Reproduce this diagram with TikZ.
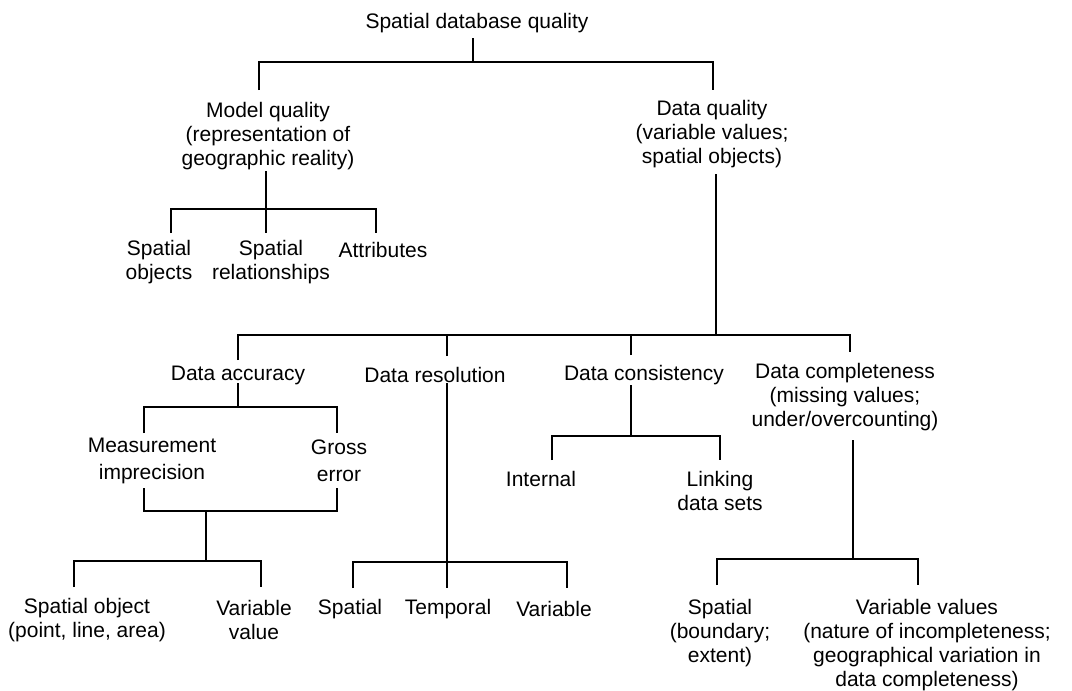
\documentclass[tikz,border=0pt]{standalone}
\usepackage{fontspec}
\setmainfont{Liberation Sans}
\begin{document}
\begin{tikzpicture}[x=1pt,y=-1pt,
  lbl/.style={inner sep=0pt, align=center, font=\fontsize{21}{24}\selectfont},
  conn/.style={line width=2.6pt, line join=miter}]
\useasboundingbox (0,0) rectangle (1072,691);
\fill[white] (0,0) rectangle (1072,691);
% text nodes
\node[lbl] (root) at (477,23) {Spatial database quality};
\node[lbl] (model) at (268,136) {Model quality\\(representation of\\geographic reality)};
\node[lbl] (data) at (712,134) {Data quality\\(variable values;\\spatial objects)};
\node[lbl] (sobj) at (159,262) {Spatial\\objects};
\node[lbl] (srel) at (271,262) {Spatial\\relationships};
\node[lbl] (attr) at (383,250) {Attributes};
\node[lbl] (acc) at (238,375) {Data accuracy};
\node[lbl] (res) at (435,375) {Data resolution};
\node[lbl] (cons) at (644,375) {Data consistency};
\node[lbl] (comp) at (845,397) {Data completeness\\(missing values;\\under/overcounting)};
\node[lbl, font=\fontsize{21}{27}\selectfont] (meas) at (152,461) {Measurement\\imprecision};
\node[lbl, font=\fontsize{21}{27}\selectfont] (gross) at (339,461) {Gross\\error};
\node[lbl] (spobj) at (87,620) {Spatial object\\(point, line, area)};
\node[lbl] (varval) at (254,620) {Variable\\value};
\node[lbl] (rspat) at (350,609) {Spatial};
\node[lbl] (rtemp) at (448,609) {Temporal};
\node[lbl] (rvar) at (554,609) {Variable};
\node[lbl] (int) at (541,479) {Internal};
\node[lbl] (link) at (720,491) {Linking\\data sets};
\node[lbl] (cspat) at (720,633) {Spatial\\(boundary;\\extent)};
\node[lbl] (cvar) at (927,645) {Variable values\\(nature of incompleteness;\\geographical variation in\\data completeness)};
% connector end points
\coordinate (rootS) at (473,38);
\coordinate (rootJ) at (473,62);
\coordinate (modelN) at (259,90);
\coordinate (dataN) at (713,90);
\coordinate (modelS) at (266,171);
\coordinate (modelJ) at (266,209);
\coordinate (sobjN) at (171,233);
\coordinate (srelN) at (266,233);
\coordinate (attrN) at (376,233);
\coordinate (dataS) at (716,174);
\coordinate (dataJ) at (716,335);
\coordinate (accN) at (238,360);
\coordinate (resN) at (447,356);
\coordinate (consN) at (631,355);
\coordinate (compN) at (850,352);
\coordinate (accS) at (238,383);
\coordinate (accJ) at (238,407);
\coordinate (measN) at (144,433);
\coordinate (grossN) at (337,433);
\coordinate (measS) at (144,488);
\coordinate (grossS) at (337,488);
\coordinate (errJ) at (206,511);
\coordinate (errJ2) at (206,561);
\coordinate (spobjN) at (74,587);
\coordinate (varvalN) at (261,587);
\coordinate (resS) at (447,383);
\coordinate (resJ) at (447,562);
\coordinate (rspatN) at (353,588);
\coordinate (rtempN) at (447,588);
\coordinate (rvarN) at (567,588);
\coordinate (consS) at (631,385);
\coordinate (consJ) at (631,436);
\coordinate (intN) at (552,460);
\coordinate (linkN) at (720,460);
\coordinate (compS) at (853,440);
\coordinate (compJ) at (853,559);
\coordinate (cspatN) at (717,585);
\coordinate (cvarN) at (918,585);
% connectors
\draw[conn] (rootS) -- (rootJ);
\draw[conn] (modelN) |- (rootJ) -| (dataN);
\draw[conn] (modelS) -- (srelN);
\draw[conn] (sobjN) |- (modelJ) -| (attrN);
\draw[conn] (dataS) -- (dataJ);
\draw[conn] (accN) |- (dataJ) -| (compN);
\draw[conn] (resN) -- (resN |- dataJ);
\draw[conn] (consN) -- (consN |- dataJ);
\draw[conn] (accS) -- (accJ);
\draw[conn] (measN) |- (accJ) -| (grossN);
\draw[conn] (measS) |- (errJ) -| (grossS);
\draw[conn] (errJ) -- (errJ2);
\draw[conn] (spobjN) |- (errJ2) -| (varvalN);
\draw[conn] (resS) -- (rtempN);
\draw[conn] (rspatN) |- (resJ) -| (rvarN);
\draw[conn] (consS) -- (consJ);
\draw[conn] (intN) |- (consJ) -| (linkN);
\draw[conn] (compS) -- (compJ);
\draw[conn] (cspatN) |- (compJ) -| (cvarN);
\end{tikzpicture}
\end{document}
